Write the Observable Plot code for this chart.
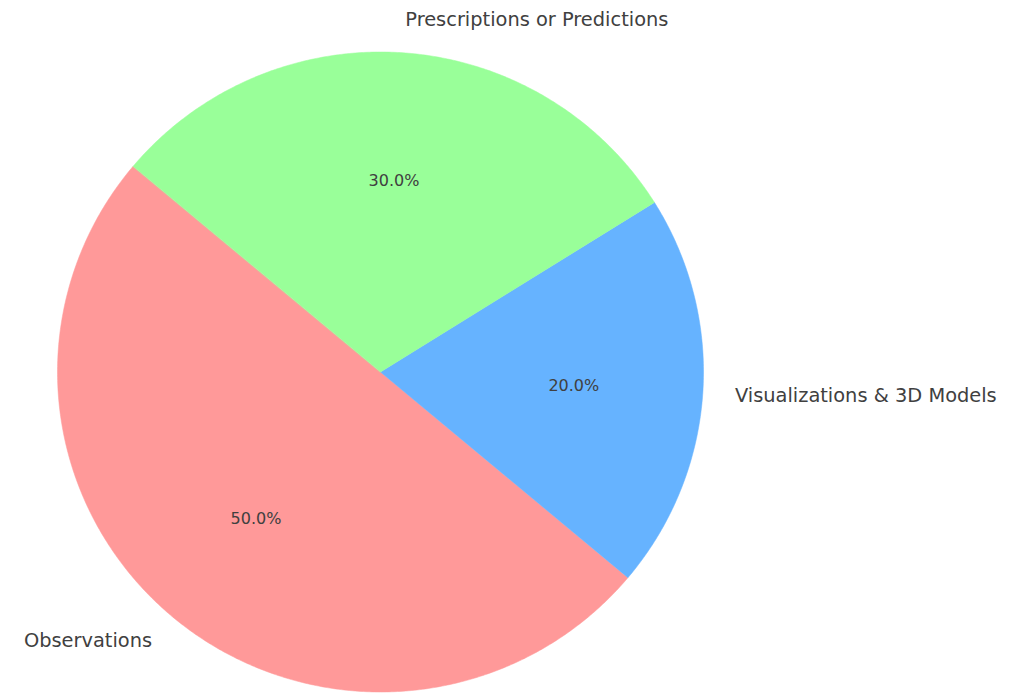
<!DOCTYPE html>
<html>
<head>
<meta charset="utf-8">
<script src="https://cdn.jsdelivr.net/npm/d3@7"></script>
<script src="https://cdn.jsdelivr.net/npm/@observablehq/plot@0.6"></script>
<style>
  html, body { margin: 0; padding: 0; background: #fff; overflow: hidden; }
  #chart svg { display: block; }
</style>
</head>
<body>
<div id="chart"></div>
<script>
// ---- Data ----
const categories = ["Observations", "Visualizations & 3D Models", "Prescriptions or Predictions"];
const shares = [50, 20, 30];
const colors = ["#ff9999", "#66b3ff", "#99ff99"];
const startAngle = 140; // degrees, counter-clockwise like matplotlib

// ---- Build slice geometry in unit (data) coordinates ----
const total = d3.sum(shares);
const rad = Math.PI / 180;
const slicePoints = [];
const labelRows = [];
let a0 = startAngle;
categories.forEach((cat, i) => {
  const sweep = shares[i] / total * 360;
  const a1 = a0 + sweep;
  slicePoints.push({cat, x: 0, y: 0});
  const steps = Math.max(2, Math.ceil(sweep * 2));
  for (let k = 0; k <= steps; ++k) {
    const a = (a0 + (a1 - a0) * k / steps) * rad;
    slicePoints.push({cat, x: Math.cos(a), y: Math.sin(a)});
  }
  const mid = (a0 + a1) / 2 * rad;
  labelRows.push({
    cat,
    pct: (shares[i] / total * 100).toFixed(1) + "%",
    lx: 1.1 * Math.cos(mid), ly: 1.1 * Math.sin(mid),
    px: 0.6 * Math.cos(mid), py: 0.6 * Math.sin(mid)
  });
  a0 = a1;
});

const W = 1023, H = 694;
const cx = 380, cy = 371.5, rx = 323, ry = 320;

const chart = Plot.plot({
  width: W,
  height: H,
  margin: 0,
  style: {background: "#fff", fontFamily: "'DejaVu Sans', sans-serif", overflow: "hidden"},
  x: {domain: [-cx / rx, (W - cx) / rx], range: [0, W], axis: null},
  y: {domain: [(cy - H) / ry, cy / ry], range: [H, 0], axis: null},
  color: {domain: categories, range: colors},
  marks: [
    Plot.line(slicePoints, {
      x: "x", y: "y", z: "cat", fill: "cat", stroke: "cat", strokeWidth: 0.5,
      curve: "linear-closed"
    }),
    Plot.text(labelRows.filter(d => d.lx < 0), {
      x: "lx", y: "ly", text: "cat", textAnchor: "end", dy: -1,
      fontSize: 19.4, fill: "#404040"
    }),
    Plot.text(labelRows.filter(d => d.lx >= 0), {
      x: "lx", y: "ly", text: "cat", textAnchor: "start", dy: -1,
      fontSize: 19.4, fill: "#404040"
    }),
    Plot.text(labelRows, {
      x: "px", y: "py", text: "pct",
      fontSize: 16, fill: "#404040"
    })
  ]
});
document.getElementById("chart").appendChild(chart);
</script>
</body>
</html>
